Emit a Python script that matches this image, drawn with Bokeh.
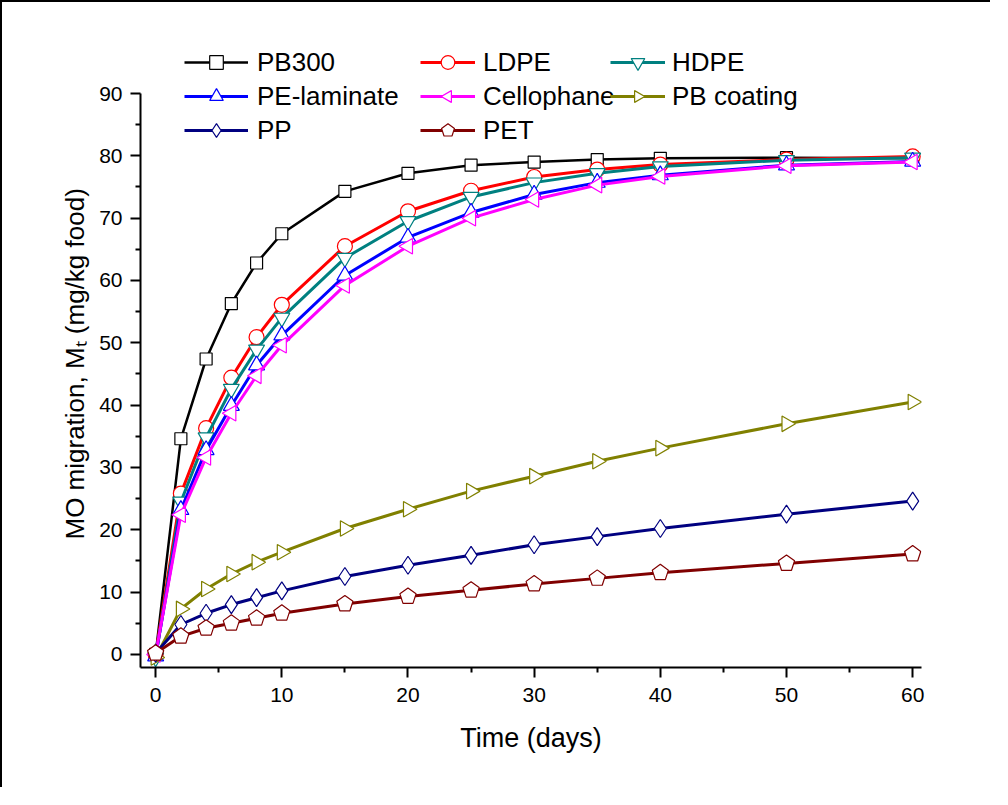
import math
from bokeh.plotting import figure
from bokeh.models import Range1d, Legend, LegendItem, FixedTicker, Title
from bokeh.embed import file_html
from bokeh.resources import INLINE

days = [0, 2, 4, 6, 8, 10, 15, 20, 25, 30, 35, 40, 50, 60]
pb300 = [0.0, 34.6, 47.4, 56.3, 62.8, 67.5, 74.3, 77.2, 78.5, 79.0, 79.4, 79.6, 79.7, 79.6]
ldpe = [0.0, 25.8, 36.3, 44.4, 50.9, 56.1, 65.5, 71.1, 74.4, 76.6, 77.8, 78.6, 79.4, 79.9]
hdpe = [-0.5, 24.5, 34.8, 42.6, 48.9, 54.0, 63.6, 69.5, 73.4, 75.7, 77.2, 78.3, 79.3, 79.7]
pe_laminate = [-0.3, 23.2, 32.8, 39.9, 46.4, 51.2, 60.8, 66.9, 70.9, 73.8, 75.7, 76.9, 78.5, 79.1]
cellophane = [0.0, 22.4, 31.6, 38.7, 44.7, 49.6, 59.2, 65.5, 70.0, 73.0, 75.3, 76.7, 78.4, 79.0]
pb_coating = [-0.5, 7.3, 10.5, 12.9, 14.8, 16.4, 20.2, 23.3, 26.2, 28.6, 31.0, 33.1, 37.0, 40.5]
pp = [0.2, 4.8, 6.6, 8.0, 9.1, 10.2, 12.5, 14.3, 15.9, 17.6, 18.9, 20.2, 22.5, 24.6]
pet = [0.2, 2.9, 4.2, 5.0, 5.8, 6.6, 8.1, 9.3, 10.3, 11.3, 12.2, 13.1, 14.6, 16.1]

x_ticks = [0, 10, 20, 30, 40, 50, 60]
x_minor = [5, 15, 25, 35, 45, 55]
y_ticks = [0, 10, 20, 30, 40, 50, 60, 70, 80, 90]
y_minor = [5, 15, 25, 35, 45, 55, 65, 75, 85]

FONT = "Liberation Sans"

p = figure(width=990, height=787, output_backend="svg", toolbar_location=None,
           x_range=Range1d(-1.2, 60.7), y_range=Range1d(-2.1, 103.8),
           min_border_left=138, min_border_right=71, min_border_top=5,
           min_border_bottom=122)
p.styles = {"border-left": "2px solid black", "border-top": "2px solid black"}
p.outline_line_color = None
p.xgrid.visible = False
p.ygrid.visible = False
p.background_fill_color = "white"
p.border_fill_color = "white"

p.xaxis.ticker = FixedTicker(ticks=x_ticks, minor_ticks=x_minor)
p.yaxis.ticker = FixedTicker(ticks=y_ticks, minor_ticks=y_minor)
p.yaxis.bounds = (-2.1, 90)
p.xaxis.axis_label = "Time (days)"
for ax in (p.xaxis[0], p.yaxis[0]):
    ax.axis_line_width = 2
    ax.axis_line_color = "black"
    ax.major_tick_line_width = 2
    ax.minor_tick_line_width = 2
    ax.major_tick_line_color = "black"
    ax.minor_tick_line_color = "black"
    ax.major_tick_out = 10
    ax.major_tick_in = 0
    ax.minor_tick_out = 5
    ax.minor_tick_in = 0
    ax.major_label_text_font = FONT
    ax.major_label_text_font_size = "21px"
    ax.major_label_text_color = "black"
    ax.axis_label_text_font = FONT
    ax.axis_label_text_font_style = "normal"
    ax.axis_label_text_color = "black"
p.xaxis.axis_label_text_font_size = "27px"
p.xaxis.major_label_standoff = 10
p.yaxis.major_label_standoff = 8
p.xaxis.axis_label_standoff = 18

# y-axis title, placed along the left side (offset shifts it up from the bottom)
ytitle = Title(text="MO migration, M\u209c (mg/kg food)", align="left", offset=128,
               text_font=FONT, text_font_size="26px", text_font_style="normal",
               text_color="black", standoff=14)
p.add_layout(ytitle, "left")

# name, values, colour, marker, angle, size, line width
series = [
    ("PB300", pb300, "#000000", "square", 0.0, 12, 2.5),
    ("LDPE", ldpe, "#FF0000", "circle", 0.0, 15, 3),
    ("HDPE", hdpe, "#008080", "inverted_triangle", 0.0, 16, 3),
    ("PE-laminate", pe_laminate, "#0000FF", "triangle", 0.0, 16, 3),
    ("Cellophane", cellophane, "#FF00FF", "ngon3", math.pi / 2, 9, 3),
    ("PB coating", pb_coating, "#808000", "ngon3", -math.pi / 2, 9, 3),
    ("PP", pp, "#000080", "diamond", 0.0, 18, 3),
    ("PET", pet, "#800000", "ngon5", 0.0, 8.5, 3),
]

items = {}
for name, vals, color, marker, ang, size, lw in series:
    lr = p.line(days, vals, line_color=color, line_width=lw)
    if marker.startswith("ngon"):
        n = int(marker[4:])
        sr = p.ngon(x=days, y=vals, radius=size, radius_units="screen", n=n,
                    angle=ang, fill_color="white", line_color=color,
                    line_width=1.2)
    else:
        sr = p.scatter(days, vals, marker=marker, size=size, angle=ang,
                       fill_color="white", line_color=color, line_width=1.2)
    items[name] = LegendItem(label=name, renderers=[lr, sr])

columns = [
    (["PB300", "PE-laminate", "PP"], 44, 520, 64, 9),
    (["LDPE", "Cellophane", "PET"], 280, 520, 55, 8),
    (["HDPE", "PB coating"], 470, 554, 55, 7),
]
for names, vx, vy, gw, standoff in columns:
    lg = Legend(items=[items[n] for n in names], location=(vx, vy),
                orientation="vertical", margin=0, padding=0, spacing=0,
                glyph_width=gw, glyph_height=34, label_height=34,
                label_standoff=standoff, label_text_font=FONT,
                label_text_font_size="26px", label_text_color="black",
                border_line_color=None, background_fill_alpha=0)
    p.add_layout(lg)

open("out.html", "w").write(file_html(p, INLINE))
